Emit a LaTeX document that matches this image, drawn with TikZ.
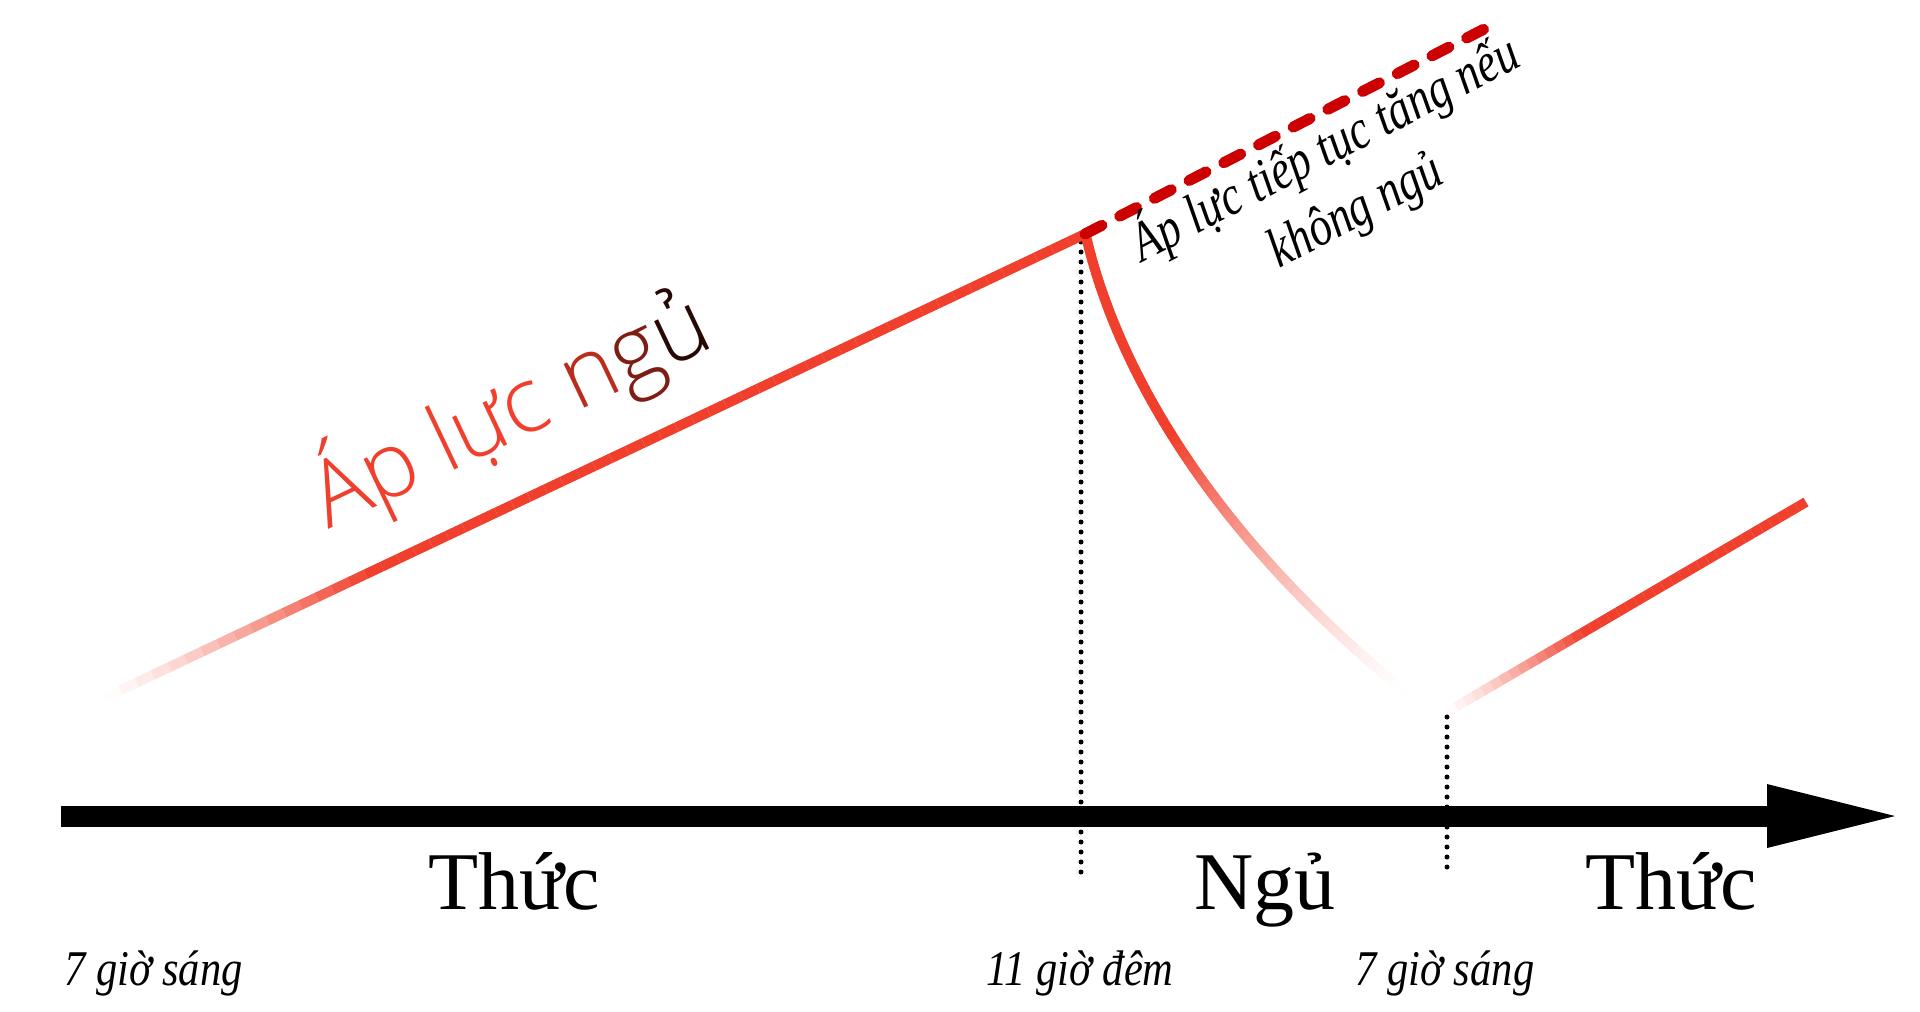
\documentclass[tikz,border=0pt]{standalone}
\usepackage{fontspec}
\setmainfont{Liberation Serif}
\newfontfamily\titlefont{Open Sans Light}
\newfontfamily\itfont[FakeStretch=0.85]{Liberation Serif Italic}
\newfontfamily\noteit[FakeStretch=0.8]{Liberation Serif Italic}
\usetikzlibrary{calc}
\definecolor{lineRed}{RGB}{240,64,45}
\definecolor{dashRed}{RGB}{204,0,0}
\definecolor{nCol}{RGB}{185,45,30}
\definecolor{gCol}{RGB}{125,30,20}
\definecolor{uCol}{RGB}{40,8,4}
\tikzset{
  axislabel/.style={font=\fontsize{82}{90}\selectfont, anchor=base, inner sep=0pt},
  timelabel/.style={font=\itfont\fontsize{50}{60}\selectfont, anchor=base, inner sep=0pt},
  notelabel/.style={font=\noteit\fontsize{56}{64}\selectfont, anchor=base, rotate=27.4, inner sep=0pt},
  dotline/.style={line width=5pt, line cap=round, dash pattern=on 0pt off 10pt},
  dashline/.style={line width=11pt, line cap=round, dash pattern=on 19pt off 20pt, dashRed},
}
\begin{document}
\begin{tikzpicture}[x=1pt,y=-1pt]
\useasboundingbox (0,0) rectangle (1920,1012);
% key points
\coordinate (L0) at (104,698);
\coordinate (peak) at (1085,234);
\coordinate (dEnd) at (1492,25);
\coordinate (R0) at (1447,712);
\coordinate (R1) at (1806,502);
\coordinate (axL) at (61,816);
\coordinate (axR) at (1770,816);
\coordinate (hTop) at (1767,784);
\coordinate (hTip) at (1895,816);
\coordinate (hBot) at (1767,848);
\coordinate (v1a) at (1081,242);
\coordinate (v1b) at (1081,877);
\coordinate (v2a) at (1447,717);
\coordinate (v2b) at (1447,877);
% dotted guides
\draw[dotline] (v1a) -- (v1b);
\draw[dotline] (v2a) -- (v2b);
% axis
\draw[line width=21pt] (axL) -- (axR);
\fill (hTop) -- (hTip) -- (hBot) -- cycle;
% left rising line with fade at its start
\foreach \i in {0,...,59}{
  \pgfmathsetmacro\ta{\i/60}
  \pgfmathsetmacro\tb{(\i+1)/60}
  \pgfmathsetmacro\p{min(100,100*((\ta+0.008)/0.27)^1.2)}
  \draw[line width=10pt, color=lineRed!\p!white] ($(L0)!\ta!(peak)$) -- ($(L0)!\tb!(peak)$);
}
% falling curve with fade at its end
\foreach \i in {0,...,69}{
  \pgfmathsetmacro\ta{\i/70}
  \pgfmathsetmacro\tb{(\i+1)/70}
  \pgfmathsetmacro\xa{(1-\ta)^3*1086+3*(1-\ta)^2*\ta*1120+3*(1-\ta)*\ta^2*1220+\ta^3*1403}
  \pgfmathsetmacro\ya{(1-\ta)^3*236+3*(1-\ta)^2*\ta*380+3*(1-\ta)*\ta^2*540+\ta^3*690}
  \pgfmathsetmacro\xb{(1-\tb)^3*1086+3*(1-\tb)^2*\tb*1120+3*(1-\tb)*\tb^2*1220+\tb^3*1403}
  \pgfmathsetmacro\yb{(1-\tb)^3*236+3*(1-\tb)^2*\tb*380+3*(1-\tb)*\tb^2*540+\tb^3*690}
  \pgfmathsetmacro\p{\ta<0.45 ? 100 : 100*((1-\ta)/0.55)^1.3}
  \draw[line width=10pt, line cap=round, color=lineRed!\p!white] (\xa,\ya) -- (\xb,\yb);
}
% right rising line with fade at its start
\foreach \i in {0,...,39}{
  \pgfmathsetmacro\ta{\i/40}
  \pgfmathsetmacro\tb{(\i+1)/40}
  \pgfmathsetmacro\p{min(100,100*((\ta+0.0125)/0.38)^1.2)}
  \draw[line width=10pt, color=lineRed!\p!white] ($(R0)!\ta!(R1)$) -- ($(R0)!\tb!(R1)$);
}
% dashed continuation
\draw[dashline] (peak) -- (dEnd);
% labels
\node[font=\titlefont\fontsize{91}{95}\selectfont, anchor=base west, rotate=25.4, inner sep=0pt] (title) at (328,530)
  {{\color{lineRed}Áp lực }{\color{nCol}n}{\color{gCol}g}{\color{uCol}ủ}};
\node[notelabel] (note1) at (1333,164) {Áp lực tiếp tục tăng nếu};
\node[notelabel] (note2) at (1363,225) {không ngủ};
\node[axislabel] (wake1) at (514,909) {Thức};
\node[axislabel] (sleep) at (1265,909) {Ngủ};
\node[axislabel] (wake2) at (1671,909) {Thức};
\node[timelabel, anchor=base west] (t1) at (64,985) {7 giờ sáng};
\node[timelabel] (t2) at (1080,985) {11 giờ đêm};
\node[timelabel] (t3) at (1445,985) {7 giờ sáng};
\end{tikzpicture}
\end{document}
